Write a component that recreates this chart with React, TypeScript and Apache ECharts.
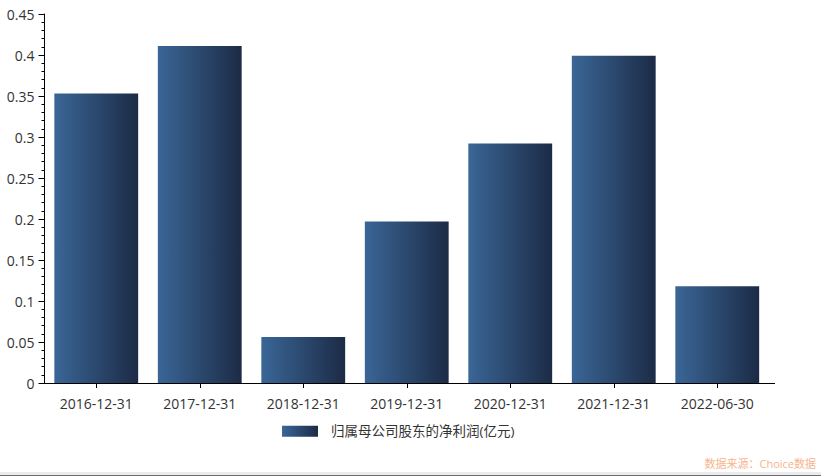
import React, { useEffect, useRef } from "react";
import * as echarts from "echarts";

const categories = ["2016-12-31", "2017-12-31", "2018-12-31", "2019-12-31", "2020-12-31", "2021-12-31", "2022-06-30"];
const netProfit = [0.353, 0.411, 0.056, 0.197, 0.292, 0.399, 0.118];
const seriesName = "归属母公司股东的净利润(亿元)";
const sourceText = "数据来源：Choice数据";

const FONT = "'Open Sans', 'Noto Sans CJK SC', sans-serif";

export default function App() {
  const ref = useRef<HTMLDivElement>(null);
  useEffect(() => {
    document.body.style.margin = "0";
    const chart = echarts.init(ref.current!, null, { renderer: "svg" });
    const grad = new echarts.graphic.LinearGradient(0, 0, 1, 0, [
      { offset: 0, color: "#3a6696" },
      { offset: 1, color: "#1c2b46" },
    ]);
    chart.setOption({
      animation: false,
      backgroundColor: "#ffffff",
      textStyle: { fontFamily: FONT },
      grid: { left: 44.5, right: 52, top: 14, bottom: 93, containLabel: false },
      legend: {
        data: [{ name: seriesName, icon: "rect" }],
        bottom: 33,
        left: 277,
        itemWidth: 36,
        itemHeight: 11,
        itemGap: 10,
        textStyle: { fontSize: 13.5, color: "#333", fontFamily: FONT, padding: [0, 0, 0, 8] },
      },
      xAxis: {
        type: "category",
        data: categories,
        axisLine: { lineStyle: { color: "#000", width: 1 } },
        axisTick: { show: true, alignWithLabel: true, lineStyle: { color: "#000" } },
        axisLabel: { fontSize: 14, color: "#333", margin: 13, fontFamily: FONT },
      },
      yAxis: {
        type: "value",
        min: 0,
        max: 0.45,
        interval: 0.05,
        axisLine: { show: true, lineStyle: { color: "#000" } },
        axisTick: { show: true, length: 6, lineStyle: { color: "#000" } },
        minorTick: { show: true, splitNumber: 5, length: 3, lineStyle: { color: "#000" } },
        splitLine: { show: false },
        axisLabel: { fontSize: 14, color: "#333", margin: 10, fontFamily: FONT },
      },
      series: [
        {
          name: seriesName,
          type: "bar",
          data: netProfit,
          barWidth: "81%",
          itemStyle: { color: grad },
        },
      ],
      graphic: [
        {
          type: "line",
          shape: { x1: 768, y1: 383.5, x2: 775, y2: 383.5 },
          style: { stroke: "#000", lineWidth: 1 },
        },
        {
          type: "text",
          right: 5,
          top: 458,
          style: { text: sourceText, fill: "#f7b38d", fontSize: 11, fontFamily: FONT },
        },
        { type: "rect", left: 0, top: 472, shape: { width: 821, height: 3 }, style: { fill: "#ececec" } },
        { type: "rect", left: 0, top: 475, shape: { width: 821, height: 1 }, style: { fill: "#6e6e6e" } },
      ],
    });
    return () => chart.dispose();
  }, []);
  return <div ref={ref} style={{ width: 821, height: 476, position: "fixed", left: 0, top: 0 }} />;
}
